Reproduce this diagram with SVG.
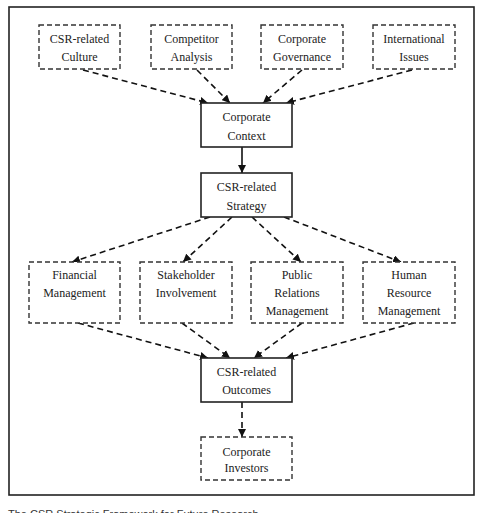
<svg xmlns="http://www.w3.org/2000/svg" width="488" height="513" viewBox="0 0 488 513">
<style>
.frame{fill:none;stroke:#222;stroke-width:1.6}
.solid{fill:#fff;stroke:#222;stroke-width:1.6}
.dash{fill:#fff;stroke:#333;stroke-width:1.4;stroke-dasharray:5,3}
.t{font-family:"Liberation Serif","Times New Roman",serif;font-size:12px;fill:#222;text-anchor:middle}
.c{fill:none;stroke:#111;stroke-width:1.6;stroke-dasharray:6,4}
.s{fill:none;stroke:#111;stroke-width:1.6}
.cap{font-family:"Liberation Sans",Arial,sans-serif;font-size:11px;fill:#333}
</style>
<defs>
<marker id="ah" viewBox="0 0 10 10" refX="10" refY="5" markerWidth="5" markerHeight="5" markerUnits="strokeWidth" orient="auto">
<path d="M0,0 L10,5 L0,10 z" fill="#111"/>
</marker>
</defs>
<rect x="0" y="0" width="488" height="513" fill="#fff"/>
<rect class="frame" x="9" y="7" width="465" height="488"/>
<g id="connectors">
<line class="c" x1="83" y1="70" x2="208" y2="103" marker-end="url(#ah)"/>
<line class="c" x1="197" y1="70" x2="230" y2="103" marker-end="url(#ah)"/>
<line class="c" x1="302" y1="70" x2="263" y2="103" marker-end="url(#ah)"/>
<line class="c" x1="412" y1="70" x2="286" y2="103" marker-end="url(#ah)"/>
<line class="s" x1="242" y1="147" x2="242" y2="173" marker-end="url(#ah)"/>
<line class="c" x1="210" y1="217" x2="72" y2="262" marker-end="url(#ah)"/>
<line class="c" x1="232" y1="217" x2="183" y2="262" marker-end="url(#ah)"/>
<line class="c" x1="252" y1="217" x2="301" y2="262" marker-end="url(#ah)"/>
<line class="c" x1="284" y1="217" x2="401" y2="262" marker-end="url(#ah)"/>
<line class="c" x1="78" y1="323" x2="208" y2="358" marker-end="url(#ah)"/>
<line class="c" x1="182" y1="323" x2="230" y2="358" marker-end="url(#ah)"/>
<line class="c" x1="302" y1="323" x2="254" y2="358" marker-end="url(#ah)"/>
<line class="c" x1="414" y1="323" x2="286" y2="358" marker-end="url(#ah)"/>
<line class="c" x1="242" y1="402" x2="242" y2="437" marker-end="url(#ah)"/>
</g>
<g id="culture"><rect class="dash" x="39" y="25" width="81" height="44"/><text class="t" x="79.5" y="43">CSR-related</text><text class="t" x="79.5" y="61">Culture</text></g>
<g id="competitor"><rect class="dash" x="151" y="25" width="81" height="44"/><text class="t" x="191.5" y="43">Competitor</text><text class="t" x="191.5" y="61">Analysis</text></g>
<g id="governance"><rect class="dash" x="261" y="25" width="82" height="44"/><text class="t" x="302" y="43">Corporate</text><text class="t" x="302" y="61">Governance</text></g>
<g id="international"><rect class="dash" x="373" y="25" width="82" height="44"/><text class="t" x="414" y="43">International</text><text class="t" x="414" y="61">Issues</text></g>
<g id="context"><rect class="solid" x="201" y="103" width="91" height="44"/><text class="t" x="246.5" y="121">Corporate</text><text class="t" x="246.5" y="140">Context</text></g>
<g id="strategy"><rect class="solid" x="201" y="173" width="91" height="44"/><text class="t" x="246.5" y="191">CSR-related</text><text class="t" x="246.5" y="210">Strategy</text></g>
<g id="financial"><rect class="dash" x="29" y="262" width="91" height="61"/><text class="t" x="74.5" y="279">Financial</text><text class="t" x="74.5" y="297">Management</text></g>
<g id="stakeholder"><rect class="dash" x="140" y="262" width="92" height="61"/><text class="t" x="186" y="279">Stakeholder</text><text class="t" x="186" y="297">Involvement</text></g>
<g id="public"><rect class="dash" x="251" y="262" width="92" height="61"/><text class="t" x="297" y="279">Public</text><text class="t" x="297" y="297">Relations</text><text class="t" x="297" y="315">Management</text></g>
<g id="human"><rect class="dash" x="363" y="262" width="92" height="61"/><text class="t" x="409" y="279">Human</text><text class="t" x="409" y="297">Resource</text><text class="t" x="409" y="315">Management</text></g>
<g id="outcomes"><rect class="solid" x="201" y="358" width="91" height="44"/><text class="t" x="246.5" y="376">CSR-related</text><text class="t" x="246.5" y="394">Outcomes</text></g>
<g id="investors"><rect class="dash" x="201" y="437" width="91" height="43"/><text class="t" x="246.5" y="456">Corporate</text><text class="t" x="246.5" y="472">Investors</text></g>
<text class="cap" x="8" y="518">The CSR Strategic Framework for Future Research</text>
</svg>
